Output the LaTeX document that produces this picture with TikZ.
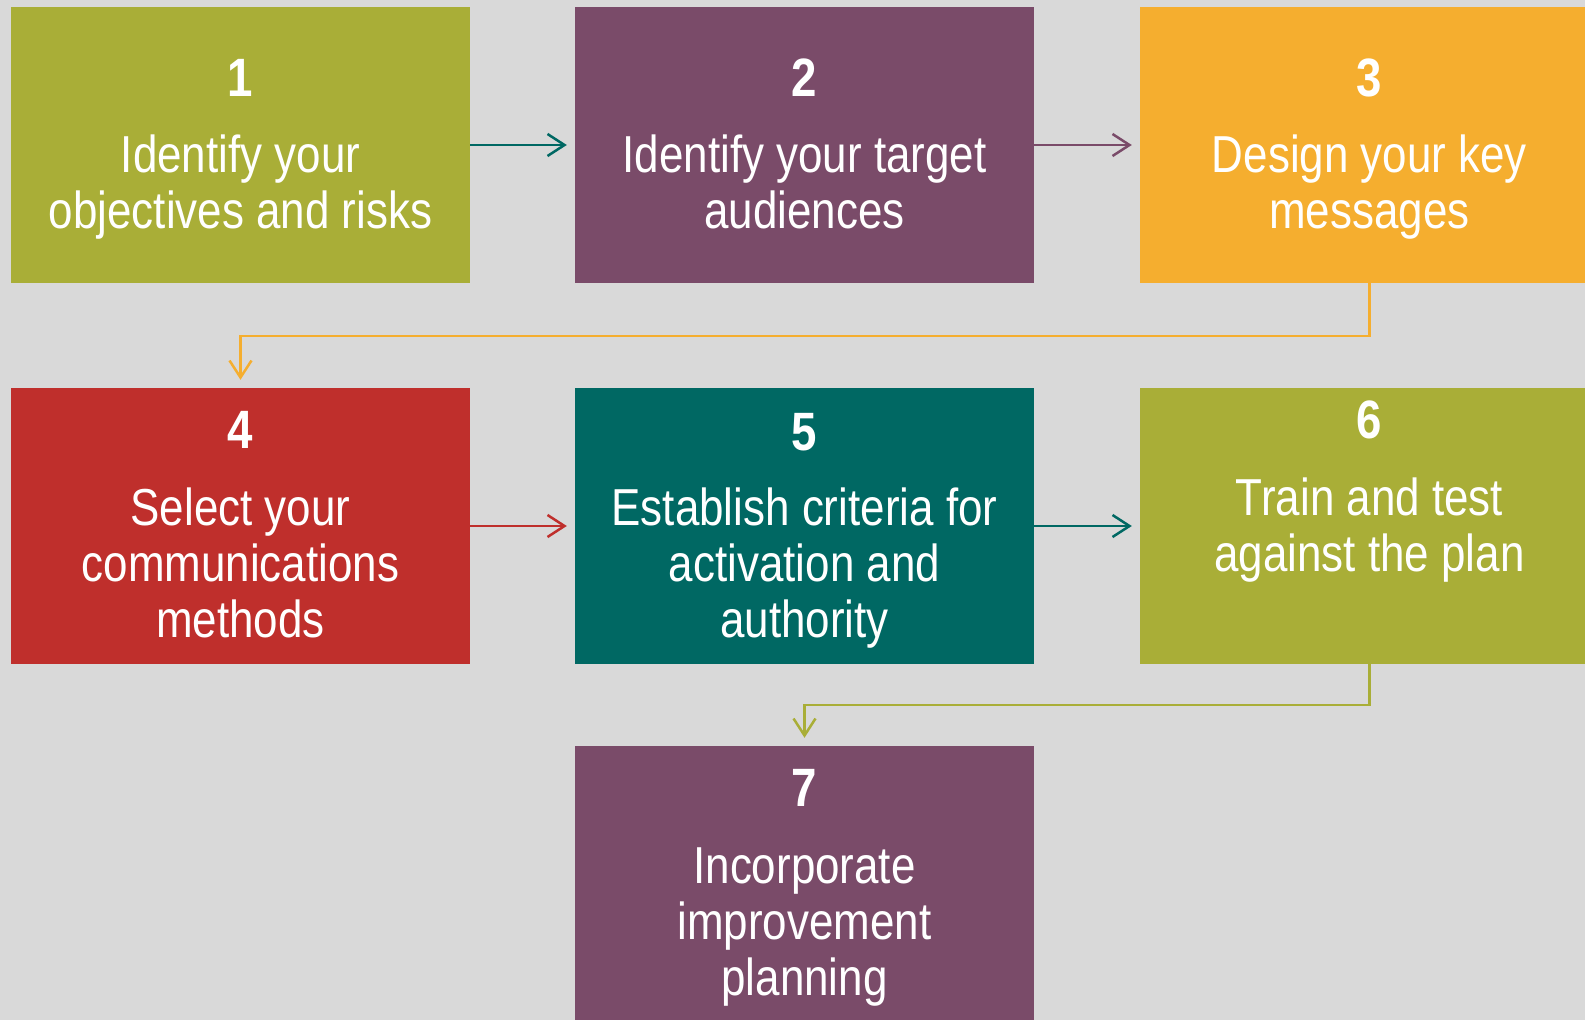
\documentclass[tikz,border=0pt]{standalone}
\usepackage{fontspec}
\setmainfont{Liberation Sans}[FakeStretch=0.845]
\usetikzlibrary{positioning, calc, arrows.meta}

\definecolor{bggray}{HTML}{D9D9D9}
\definecolor{olive}{HTML}{A9AE37}
\definecolor{plum}{HTML}{7A4B69}
\definecolor{amber}{HTML}{F5AE2F}
\definecolor{brick}{HTML}{BF2F2C}
\definecolor{teal}{HTML}{006863}

\begin{document}
\begin{tikzpicture}[
    x=1pt, y=-1pt,
    stepbox/.style={rectangle, minimum width=459pt, minimum height=276pt, inner sep=0pt},
    stepnum/.style={text=white, font=\fontsize{54}{58}\selectfont\bfseries},
    steptext/.style={text=white, align=center, font=\fontsize{52}{56}\selectfont},
    flow/.style={-{Straight Barb[length=17pt, width=22pt, line width=2.5pt]}, line width=2.5pt, shorten >=8pt}
]

    % Background
    \fill[bggray] (0,0) rectangle (1585,1020);
    \clip (0,0) rectangle (1585,1020);

    % Row 1
    \node[stepbox, fill=olive] (box-1) at (240.5, 145) {};
    \node[stepbox, fill=plum] (box-2) at (804.5, 145) {};
    \node[stepbox, fill=amber] (box-3) at (1369.5, 145) {};

    % Row 2
    \node[stepbox, fill=brick] (box-4) at (240.5, 526) {};
    \node[stepbox, fill=teal] (box-5) at (804.5, 526) {};
    \node[stepbox, fill=olive] (box-6) at (1369.5, 526) {};

    % Row 3
    \node[stepbox, fill=plum] (box-7) at (804.5, 884) {};

    % Numbers
    \node[stepnum] (num-1) at (240.5, 78) {1};
    \node[stepnum] (num-2) at (804.5, 78) {2};
    \node[stepnum] (num-3) at (1369.5, 78) {3};
    \node[stepnum] (num-4) at (240.5, 430) {4};
    \node[stepnum] (num-5) at (804.5, 432) {5};
    \node[stepnum] (num-6) at (1369.5, 420) {6};
    \node[stepnum] (num-7) at (804.5, 788) {7};

    % Texts
    \node[steptext] (txt-1) at (240.5, 187) {Identify your\\objectives and risks};
    \node[steptext] (txt-2) at (804.5, 182) {Identify your target\\audiences};
    \node[steptext] (txt-3) at (1369.5, 187) {Design your key\\messages};
    \node[steptext] (txt-4) at (240.5, 563) {Select your\\communications\\methods};
    \node[steptext] (txt-5) at (804.5, 568) {Establish criteria for\\activation and\\authority};
    \node[steptext] (txt-6) at (1369.5, 530) {Train and test\\against the plan};
    \node[steptext] (txt-7) at (804.5, 927) {Incorporate\\improvement\\planning};

    % Connections
    \coordinate (bend-3) at (1369.5, 336);
    \coordinate (bend-6) at (1369.5, 705);

    \draw[flow, teal] (box-1) -- (box-2);
    \draw[flow, plum] (box-2) -- (box-3);
    \draw[flow, amber] (box-3.south) -- (bend-3) -| (box-4.north);
    \draw[flow, brick] (box-4) -- (box-5);
    \draw[flow, teal] (box-5) -- (box-6);
    \draw[flow, olive] (box-6.south) -- (bend-6) -| (box-7.north);

\end{tikzpicture}
\end{document}
